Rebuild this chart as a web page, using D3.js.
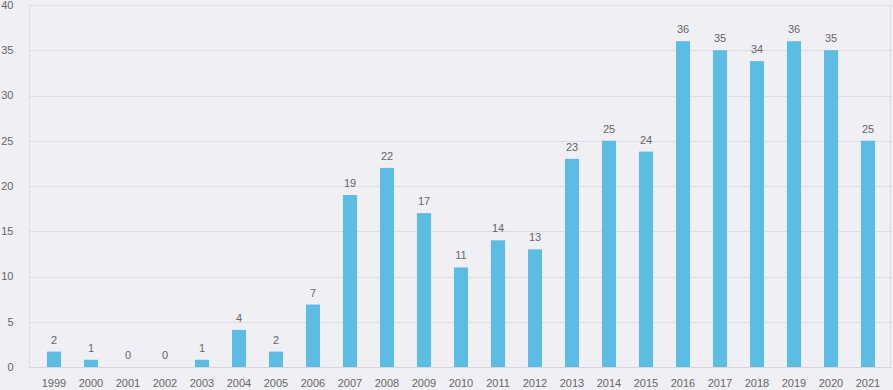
<!DOCTYPE html>
<html>
<head>
<meta charset="utf-8">
<script src="https://cdn.jsdelivr.net/npm/d3@7"></script>
<style>
  html, body { margin: 0; padding: 0; background: #efeff4; }
  svg { display: block; }
  text { font-family: "Liberation Sans", Arial, sans-serif; }
</style>
</head>
<body>
<svg id="chart" width="893" height="390"></svg>
<script>
const years = ["1999","2000","2001","2002","2003","2004","2005","2006","2007","2008","2009","2010","2011","2012","2013","2014","2015","2016","2017","2018","2019","2020","2021"];
const values = [1.7, 0.8, 0, 0, 0.8, 4.1, 1.7, 6.9, 19, 22, 17, 11, 14, 13, 23, 25, 23.8, 36, 35, 33.8, 36, 35, 25];
const yTicks = [0, 5, 10, 15, 20, 25, 30, 35, 40];

const svg = d3.select("#chart");
const W = 893, H = 390;
const plot = { left: 29, right: 891, top: 5, bottom: 367 };

const x = d3.scaleBand()
  .domain(years)
  .range([35.5, 886.5])
  .paddingInner(0.62)
  .paddingOuter(0.31);

const y = d3.scaleLinear().domain([0, 40]).range([plot.bottom, plot.top]);

// gridlines
svg.append("g").selectAll("line").data(yTicks).join("line")
  .attr("x1", plot.left).attr("x2", plot.right)
  .attr("y1", d => Math.round(y(d)) + 0.5).attr("y2", d => Math.round(y(d)) + 0.5)
  .attr("stroke", d => d === 0 ? "#d6d6dc" : "#dddde2")
  .attr("stroke-width", 1);

// vertical frame lines
svg.append("line").attr("x1", plot.left + 0.5).attr("x2", plot.left + 0.5)
  .attr("y1", plot.top).attr("y2", plot.bottom).attr("stroke", "#dddde2");
svg.append("line").attr("x1", plot.right - 0.5).attr("x2", plot.right - 0.5)
  .attr("y1", plot.top).attr("y2", plot.bottom).attr("stroke", "#dddde2");

// y-axis labels
svg.append("g").selectAll("text").data(yTicks).join("text")
  .attr("x", 13.5).attr("y", d => y(d))
  .attr("dy", "0.35em")
  .attr("text-anchor", "end")
  .attr("font-size", 11)
  .attr("fill", "#666")
  .text(d => d);

// bars
svg.append("g").selectAll("rect").data(values).join("rect")
  .attr("x", (d, i) => x(years[i]))
  .attr("width", x.bandwidth())
  .attr("y", d => y(d))
  .attr("height", d => y(0) - y(d))
  .attr("fill", "#5bbde4");

// value labels
svg.append("g").selectAll("text").data(values).join("text")
  .attr("x", (d, i) => x(years[i]) + x.bandwidth() / 2)
  .attr("y", d => y(d) - 8)
  .attr("text-anchor", "middle")
  .attr("font-size", 11)
  .attr("fill", "#666")
  .text(d => Math.round(d));

// x-axis labels
svg.append("g").selectAll("text").data(years).join("text")
  .attr("x", d => x(d) + x.bandwidth() / 2)
  .attr("y", 387)
  .attr("text-anchor", "middle")
  .attr("font-size", 11)
  .attr("fill", "#666")
  .text(d => d);
</script>
</body>
</html>
